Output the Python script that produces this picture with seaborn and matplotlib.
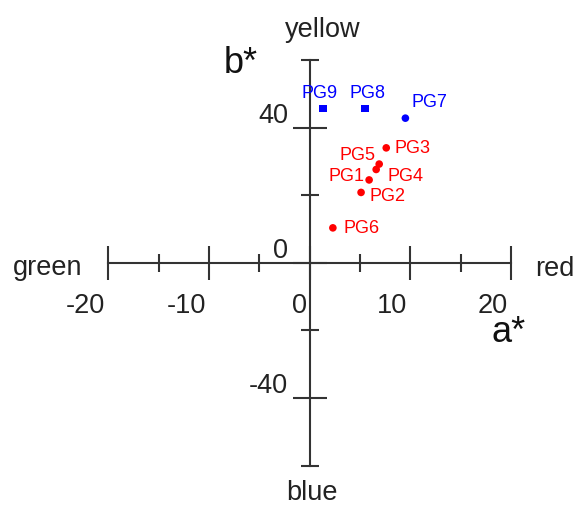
import matplotlib
matplotlib.use("Agg")
import matplotlib.pyplot as plt
import matplotlib.transforms as mtransforms
import seaborn as sns
import pandas as pd

# ---- data ----
names = ["PG1", "PG2", "PG3", "PG4", "PG5", "PG6", "PG7", "PG8", "PG9"]
a_star = [5.9, 5.1, 7.6, 6.6, 6.9, 2.3, 9.5, 5.5, 1.3]
b_star = [24.6, 20.9, 34.1, 27.7, 29.3, 10.4, 42.9, 45.8, 45.8]
group = ["red", "red", "red", "red", "red", "red", "blue", "blue", "blue"]
shape = ["circle", "circle", "circle", "circle", "circle", "circle", "circle", "square", "square"]

x_major = [-20, -10, 0, 10, 20]
x_minor = [-15, -5, 5, 15]
y_major = [-40, 0, 40]
y_minor = [-60, -20, 20, 60]

# ---- styles (label offsets in points, alignment) ----
label_style = {
    "PG1": (-3.5, 3, "right"),
    "PG2": (6, -2.5, "left"),
    "PG3": (6, 0, "left"),
    "PG4": (8, -4, "left"),
    "PG5": (-3, 7, "right"),
    "PG6": (8, 0, "left"),
    "PG7": (4.5, 12, "left"),
    "PG8": (1.5, 11.5, "center"),
    "PG9": (-2.5, 11.5, "center"),
}
palette = {"red": "#ff0000", "blue": "#0000ff"}

df = pd.DataFrame({"a": a_star, "b": b_star, "name": names,
                   "group": group, "shape": shape})

sns.set_style("white")
plt.rcParams["font.family"] = ["Liberation Sans", "DejaVu Sans"]

fig = plt.figure(figsize=(5.77, 5.06), dpi=100)
ax = fig.add_axes([0, 0, 1, 1])

sns.scatterplot(data=df, x="a", y="b", hue="group", style="shape",
                palette=palette, markers={"circle": "o", "square": "s"},
                s=30, linewidth=0, legend=False, ax=ax, zorder=3)

for _, r in df.iterrows():
    dx, dy, ha = label_style[r["name"]]
    ax.annotate(r["name"], (r["a"], r["b"]), xytext=(dx, dy),
                textcoords="offset points", ha=ha, va="center",
                fontsize=13, color=palette[r["group"]], zorder=4)

ax.set_xlim(-30.75, 26.54)
ax.set_ylim(-71.7, 78.2)

axcol = "#333333"
for s in ["top", "right"]:
    ax.spines[s].set_visible(False)
ax.spines["left"].set_position(("data", 0))
ax.spines["bottom"].set_position(("data", 0))
ax.spines["left"].set_bounds(-60, 60)
ax.spines["bottom"].set_bounds(-20, 20)
for s in ["left", "bottom"]:
    ax.spines[s].set_color(axcol)
    ax.spines[s].set_linewidth(1.5)

ax.set_xticks(x_major)
ax.set_xticks(x_minor, minor=True)
ax.set_yticks(y_major)
ax.set_yticks(y_minor, minor=True)
ax.set_xticklabels([str(v) for v in x_major])
ax.set_yticklabels([str(v) for v in y_major])

ax.tick_params(axis="both", which="both", bottom=True, left=True,
               top=False, right=False)
ax.tick_params(axis="both", which="major", direction="inout", length=24.5,
               width=1.5, color=axcol, labelsize=19.5, labelcolor="#222222")
ax.tick_params(axis="x", which="major", pad=8.3)
ax.tick_params(axis="y", which="major", pad=3.4)
ax.tick_params(axis="both", which="minor", direction="inout", length=13,
               width=1.5, color=axcol)
shift = mtransforms.ScaledTranslation(-3 / 100, 0, fig.dpi_scale_trans)
for lbl in ax.get_xticklabels():
    lbl.set_ha("right")
    lbl.set_transform(lbl.get_transform() + shift)
for lbl in ax.get_yticklabels():
    lbl.set_va("bottom")

ax.set_xlabel("")
ax.set_ylabel("")

txtcol = "#222222"
ax.text(-22.6, -3.4, "green", ha="right", va="baseline", fontsize=19.5, color=txtcol)
ax.text(22.4, -3.5, "red", ha="left", va="baseline", fontsize=19.5, color=txtcol)
ax.text(1.27, 67.3, "yellow", ha="center", va="baseline", fontsize=19.5, color=txtcol)
ax.text(0.18, -70.0, "blue", ha="center", va="baseline", fontsize=19.5, color=txtcol)
ax.text(-6.87, 56.6, "b*", ha="center", va="baseline", fontsize=26, color="#111111")
ax.text(19.7, -23.1, "a*", ha="center", va="baseline", fontsize=26, color="#111111")

fig.savefig("out.png", dpi=100)
